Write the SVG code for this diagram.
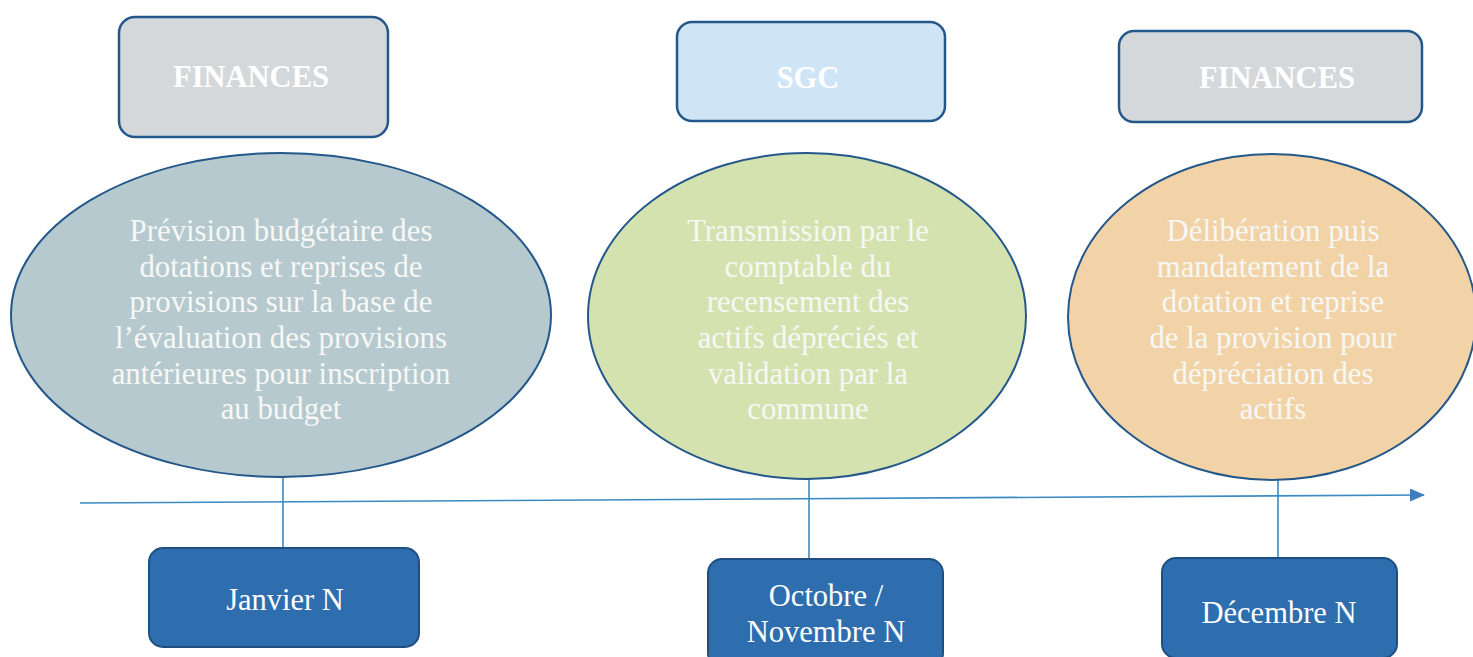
<svg xmlns="http://www.w3.org/2000/svg" width="1473" height="657" viewBox="0 0 1473 657">
<defs>
<style>
.title{font-family:"Liberation Serif","Times New Roman",serif;font-size:30.5px;font-weight:bold;fill:#ffffff;text-anchor:middle}
.body{font-family:"Liberation Serif","Times New Roman",serif;font-size:30.8px;fill:#f7f8f5;text-anchor:middle}
.date{font-family:"Liberation Serif","Times New Roman",serif;font-size:30.5px;fill:#ffffff;text-anchor:middle}
.hdr{stroke:#24578a;stroke-width:2.5}
.ell{stroke:#24578a;stroke-width:2}
.dbox{fill:#2f6eae;stroke:#1f4f80;stroke-width:2}
.conn{stroke:#3b8ac2;stroke-width:1.6;fill:none}
</style>
<marker id="arr" markerWidth="15" markerHeight="13" refX="14" refY="6.5" orient="auto" markerUnits="userSpaceOnUse">
<path d="M0,0 L15,6.5 L0,13 Z" fill="#3b7fc0"/>
</marker>
</defs>
<rect width="1473" height="657" fill="#ffffff"/>
<g id="connectors">
<line class="conn" x1="80" y1="503" x2="1424" y2="495" marker-end="url(#arr)"/>
<line class="conn" x1="283" y1="478" x2="283" y2="548"/>
<line class="conn" x1="809" y1="479" x2="809" y2="559"/>
<line class="conn" x1="1278" y1="480" x2="1278" y2="558"/>
</g>
<g id="hdr1">
<rect class="hdr" x="119" y="17" width="269" height="120" rx="16" fill="#d5d8da"/>
<text class="title" x="251" y="87">FINANCES</text>
</g>
<g id="hdr2">
<rect class="hdr" x="677" y="22" width="268" height="99" rx="15" fill="#cfe4f4"/>
<text class="title" x="808" y="88">SGC</text>
</g>
<g id="hdr3">
<rect class="hdr" x="1119" y="31" width="303" height="91" rx="15" fill="#d5d8da"/>
<text class="title" x="1277" y="88">FINANCES</text>
</g>
<g id="step1">
<ellipse class="ell" cx="281" cy="315" rx="270" ry="162" fill="#b5c9ce"/>
<text class="body" x="281" y="241">Prévision budgétaire des</text>
<text class="body" x="281" y="277">dotations et reprises de</text>
<text class="body" x="281" y="312">provisions sur la base de</text>
<text class="body" x="281" y="348">l’évaluation des provisions</text>
<text class="body" x="281" y="384">antérieures pour inscription</text>
<text class="body" x="281" y="419">au budget</text>
</g>
<g id="step2">
<ellipse class="ell" cx="807" cy="316" rx="219" ry="163" fill="#d4e2b0"/>
<text class="body" x="808" y="241">Transmission par le</text>
<text class="body" x="808" y="277">comptable du</text>
<text class="body" x="808" y="312">recensement des</text>
<text class="body" x="808" y="348">actifs dépréciés et</text>
<text class="body" x="808" y="384">validation par la</text>
<text class="body" x="808" y="419">commune</text>
</g>
<g id="step3">
<ellipse class="ell" cx="1272" cy="317" rx="204" ry="163" fill="#f1d3a7"/>
<text class="body" x="1273" y="241">Délibération puis</text>
<text class="body" x="1273" y="277">mandatement de la</text>
<text class="body" x="1273" y="312">dotation et reprise</text>
<text class="body" x="1273" y="348">de la provision pour</text>
<text class="body" x="1273" y="384">dépréciation des</text>
<text class="body" x="1273" y="419">actifs</text>
</g>
<g id="date1">
<rect class="dbox" x="149" y="548" width="270" height="99" rx="14"/>
<text class="date" x="285" y="610">Janvier N</text>
</g>
<g id="date2">
<rect class="dbox" x="708" y="559" width="235" height="108" rx="14"/>
<text class="date" x="826" y="606">Octobre /</text>
<text class="date" x="826" y="642">Novembre N</text>
</g>
<g id="date3">
<rect class="dbox" x="1162" y="558" width="235" height="100" rx="14"/>
<text class="date" x="1279" y="623">Décembre N</text>
</g>
</svg>
